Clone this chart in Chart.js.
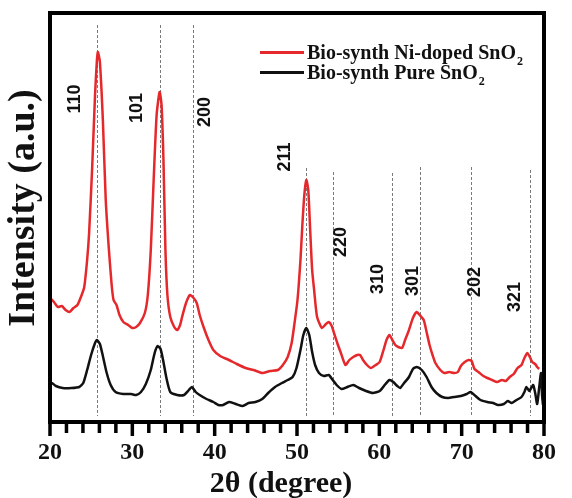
<!DOCTYPE html>
<html>
<head>
<meta charset="utf-8">
<script src="https://cdn.jsdelivr.net/npm/chart.js@4/dist/chart.umd.min.js"></script>
<style>
  body { margin: 0; background: #fff; }
  canvas { display: block; }
</style>
</head>
<body>
<canvas id="xrd" width="572" height="498"></canvas>
<script>
// DADOS (2θ em graus, intensidade em u.a.)
const niX = [20.0, 20.48, 20.95, 21.43, 21.9, 22.38, 22.85, 23.33, 23.8, 24.16, 24.51, 24.75, 25.11, 25.47, 25.7, 25.82,
  26.06, 26.42, 26.77, 27.13, 27.49, 27.72, 28.08, 28.44, 28.91, 29.5, 29.98, 30.46, 30.93, 31.52, 31.88, 32.24,
  32.59, 32.95, 33.31, 33.55, 33.78, 34.02, 34.26, 34.61, 35.09, 35.45, 35.8, 36.04, 36.52, 36.99, 37.35, 37.82,
  38.18, 38.65, 39.25, 39.84, 40.67, 41.74, 42.69, 43.76, 44.71, 45.78, 46.73, 47.68, 48.28, 48.87, 49.35, 49.7,
  50.06, 50.42, 50.65, 50.89, 51.13, 51.37, 51.6, 51.84, 52.08, 52.44, 53.03, 53.51, 53.86, 54.22, 54.57, 54.93,
  55.29, 55.88, 56.36, 56.83, 57.31, 57.66, 58.02, 58.5, 58.97, 59.56, 60.04, 60.51, 60.87, 61.23, 61.58, 61.94,
  62.3, 62.77, 63.13, 63.6, 64.08, 64.55, 64.91, 65.39, 65.74, 66.1, 66.46, 66.81, 67.41, 67.88, 68.48, 69.07,
  69.54, 69.9, 70.38, 70.85, 71.21, 71.56, 72.04, 72.63, 73.11, 73.7, 74.3, 74.89, 75.37, 75.84, 76.32, 76.79,
  77.27, 77.62, 77.98, 78.34, 78.57, 78.93, 79.17, 79.41];
const niY = [124, 120, 115, 116, 112, 110, 114, 117, 126, 135, 162, 189, 252, 327, 362, 370,
  360, 302, 222, 175, 137, 122, 117, 107, 100, 97, 94, 95, 99, 109, 127, 172,
  242, 307, 330, 317, 262, 172, 127, 105, 95, 92, 97, 105, 119, 127, 125, 119,
  107, 95, 82, 72, 66, 62, 58, 54, 52, 49, 51, 52, 57, 65, 79, 99,
  122, 162, 197, 227, 242, 232, 192, 152, 132, 105, 94, 98, 100, 96, 87, 78,
  70, 57, 62, 65, 67, 67, 62, 57, 54, 57, 60, 72, 82, 87, 82, 77,
  75, 74, 82, 92, 104, 110, 107, 102, 90, 77, 67, 59, 52, 49, 50, 49,
  50, 56, 60, 62, 61, 53, 50, 46, 44, 42, 40, 42, 41, 45, 48, 54,
  57, 64, 69, 64, 60, 58, 55, 53];

const pureX = [20.0, 20.24, 20.71, 21.54, 22.6, 23.56, 24.04, 24.51, 24.99, 25.47, 25.7, 26.06, 26.42, 26.89, 27.37, 27.96,
  28.91, 29.86, 30.46, 31.05, 31.64, 32.24, 32.71, 33.07, 33.43, 33.78, 34.14, 34.61, 35.45, 36.28, 36.87, 37.23,
  37.7, 38.18, 39.01, 39.84, 40.44, 41.03, 41.74, 42.57, 43.41, 44.12, 44.95, 45.78, 46.5, 47.33, 48.16, 48.87,
  49.47, 49.94, 50.42, 50.77, 51.13, 51.49, 51.84, 52.2, 52.67, 53.27, 53.86, 54.34, 54.81, 55.41, 56.12, 56.83,
  57.54, 58.38, 59.21, 60.04, 60.75, 61.23, 61.7, 62.18, 62.53, 63.01, 63.6, 64.08, 64.55, 65.15, 65.74, 66.34,
  66.93, 67.64, 68.36, 69.07, 69.9, 70.61, 71.09, 71.68, 72.28, 73.11, 73.82, 74.42, 75.13, 75.6, 76.08, 76.67,
  77.27, 77.62, 77.86, 78.22, 78.45, 78.69, 78.93, 79.17, 79.41, 79.64, 79.76, 79.88];
const pureY = [39, 39, 36, 34, 34, 35, 39, 52, 67, 79, 82, 78, 66, 49, 37, 30,
  28, 28, 27, 30, 38, 52, 69, 76, 73, 60, 44, 30, 27, 27, 32, 35,
  30, 27, 23, 20, 17, 17, 20, 18, 16, 19, 20, 23, 29, 35, 39, 42,
  45, 54, 72, 87, 94, 87, 70, 57, 49, 46, 47, 42, 37, 33, 35, 37,
  34, 31, 29, 31, 38, 42, 40, 36, 34, 39, 45, 53, 55, 52, 45, 35,
  29, 25, 24, 25, 26, 28, 30, 26, 22, 20, 19, 17, 18, 21, 19, 22,
  25, 30, 35, 31, 34, 37, 29, 18, 34, 49, 27, 17];

const seriesLabels = ["Bio-synth Ni-doped SnO", "Bio-synth Pure SnO"];
const xTicks = [20, 30, 40, 50, 60, 70, 80];

// PICOS (hkl)
const peakPos = [25.7, 33.31, 37.35, 51.13, 54.34, 61.58, 64.91, 71.09, 78.34];
const peakLabels = ["110", "101", "200", "211", "220", "310", "301", "202", "321"];

// posição das linhas e rótulos dos picos (unidades do gráfico)
const peakLineTop = [397, 397, 397, 254, 250, 249, 255, 255, 252];
const peakTextX = [23.03, 30.63, 38.89, 48.57, 55.29, 59.8, 64.08, 71.62, 76.5];
const peakTextY = [323, 314, 310, 265, 180, 143, 141, 140, 125];

const serif = '"Liberation Serif", "Times New Roman", serif';
const sans = '"Liberation Sans", Arial, sans-serif';

const decor = {
  id: "decor",
  beforeDatasetsDraw(chart) {
    const { ctx, scales: { x, y } } = chart;
    ctx.save();
    ctx.strokeStyle = "#7a7a7a";
    ctx.lineWidth = 1;
    ctx.setLineDash([3, 2]);
    peakPos.forEach((p, i) => {
      const px = Math.round(x.getPixelForValue(p)) + 0.5;
      ctx.beginPath();
      ctx.moveTo(px, y.getPixelForValue(peakLineTop[i]));
      ctx.lineTo(px, y.getPixelForValue(6));
      ctx.stroke();
    });
    ctx.restore();
  },
  afterDatasetsDraw(chart) {
    const { ctx, chartArea: a, scales: { x, y } } = chart;
    ctx.save();
    // moldura
    ctx.strokeStyle = "#000";
    ctx.lineWidth = 4;
    ctx.strokeRect(a.left, a.top, a.right - a.left, a.bottom - a.top);
    // marcas do eixo x
    ctx.lineWidth = 3.5;
    for (let v = 20; v <= 80; v += 2) {
      const px = x.getPixelForValue(v);
      const len = v % 10 === 0 ? 14 : 11;
      ctx.beginPath();
      ctx.moveTo(px, a.bottom);
      ctx.lineTo(px, a.bottom + len);
      ctx.stroke();
    }
    // rótulos hkl
    ctx.fillStyle = "#111";
    ctx.font = "bold 18px " + sans;
    ctx.textAlign = "center";
    ctx.textBaseline = "middle";
    peakLabels.forEach((t, i) => {
      ctx.save();
      ctx.translate(x.getPixelForValue(peakTextX[i]), y.getPixelForValue(peakTextY[i]));
      ctx.rotate(-Math.PI / 2);
      ctx.fillText(t, 0, 0);
      ctx.restore();
    });
    // legenda
    const colors = chart.data.datasets.map((d) => d.borderColor);
    seriesLabels.forEach((t, i) => {
      const ly = 52.5 + i * 20;
      ctx.strokeStyle = colors[i];
      ctx.lineWidth = 3;
      ctx.beginPath();
      ctx.moveTo(260, ly);
      ctx.lineTo(304, ly);
      ctx.stroke();
      ctx.fillStyle = "#111";
      ctx.textAlign = "left";
      ctx.textBaseline = "alphabetic";
      ctx.font = "bold 20px " + serif;
      ctx.fillText(t, 307, ly + 6.5);
      const w = ctx.measureText(t).width;
      ctx.font = "bold 12px " + serif;
      ctx.fillText("2", 307 + w + 1, ly + 12.5);
    });
    ctx.restore();
  },
  afterDraw(chart) {
    const { ctx } = chart;
    ctx.save();
    ctx.fillStyle = "#111";
    ctx.textAlign = "center";
    ctx.textBaseline = "alphabetic";
    ctx.font = "bold 30px " + serif;
    ctx.fillText("2θ (degree)", 281, 492);
    ctx.translate(34, 208);
    ctx.rotate(-Math.PI / 2);
    ctx.font = "bold 38px " + serif;
    ctx.fillText("Intensity (a.u.)", 0, 0);
    ctx.restore();
  },
};

new Chart(document.getElementById("xrd"), {
  type: "line",
  data: {
    datasets: [
      {
        label: seriesLabels[0],
        data: niX.map((v, i) => ({ x: v, y: niY[i] })),
        borderColor: "#e5282b",
        borderWidth: 2.5,
        pointRadius: 0,
        tension: 0.2,
      },
      {
        label: seriesLabels[1],
        data: pureX.map((v, i) => ({ x: v, y: pureY[i] })),
        borderColor: "#111111",
        borderWidth: 2.5,
        pointRadius: 0,
        tension: 0.2,
      },
    ],
  },
  options: {
    responsive: false,
    animation: false,
    devicePixelRatio: 1,
    layout: { padding: { left: 50, right: 17, top: 13, bottom: 0 } },
    plugins: { legend: { display: false }, tooltip: { enabled: false } },
    scales: {
      x: {
        type: "linear",
        min: 20,
        max: 80,
        grid: { display: false, drawTicks: false },
        border: { display: false },
        afterBuildTicks: (s) => { s.ticks = xTicks.map((v) => ({ value: v })); },
        afterFit: (s) => { s.height = 76; },
        ticks: {
          autoSkip: false,
          maxRotation: 0,
          padding: 16,
          color: "#111",
          font: { family: serif, size: 24, weight: "bold" },
        },
      },
      y: { display: false, min: 0, max: 409 },
    },
  },
  plugins: [decor],
});
</script>
</body>
</html>
